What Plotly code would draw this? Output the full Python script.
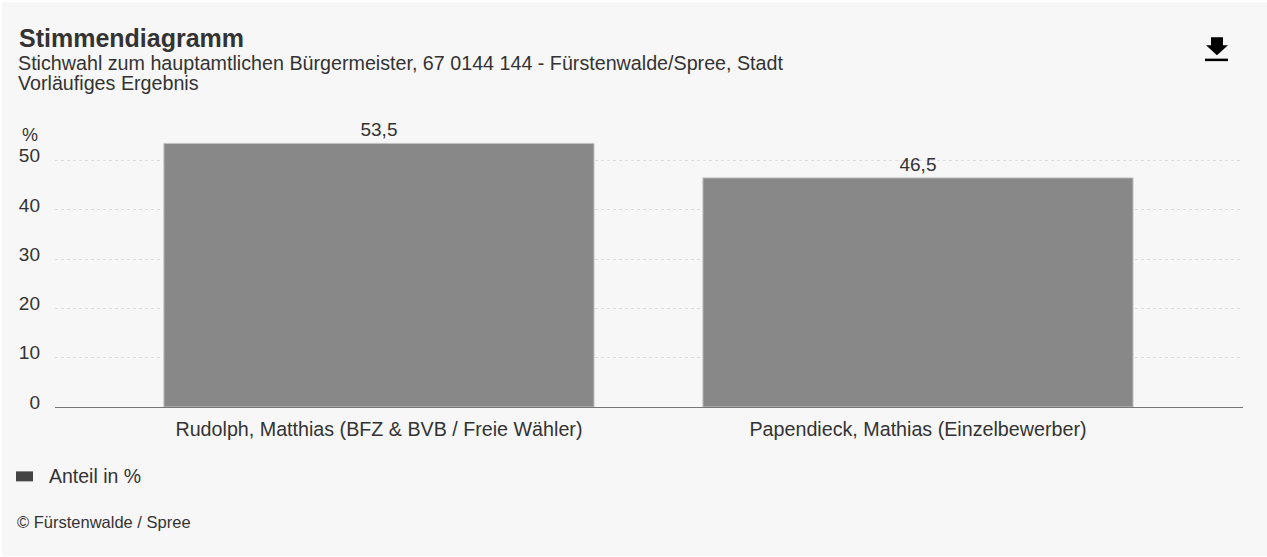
import plotly.graph_objects as go

categories = ["Rudolph, Matthias (BFZ & BVB / Freie Wähler)", "Papendieck, Mathias (Einzelbewerber)"]
values = [53.5, 46.5]
value_labels = ["53,5", "46,5"]
tick_values = [0, 10, 20, 30, 40, 50]

W, H = 1267, 557
ML, MR, MT, MB = 55, 24, 136, 149.5
PW, PH = W - ML - MR, H - MT - MB
FONT = "Liberation Sans"
TEXT = "#333333"

def px(x): return (x - ML) / PW
def py(y): return (H - MB - y) / PH

def text(x, y, s, size, anchor="left", bold=False, color=TEXT):
    return dict(xref="paper", yref="paper", x=px(x), y=py(y), text=f"<b>{s}</b>" if bold else s,
                showarrow=False, xanchor=anchor, yanchor="middle",
                font=dict(family=FONT, size=size, color=color), borderpad=0, borderwidth=0)

def path(d_pts, color):
    d = "M" + " L".join(f"{px(a):.5f},{py(b):.5f}" for a, b in d_pts) + " Z"
    return dict(type="path", xref="paper", yref="paper", path=d, fillcolor=color, line_width=0, layer="above")

fig = go.Figure(go.Bar(
    x=categories, y=values, text=value_labels, textposition="outside", cliponaxis=False,
    marker=dict(color="#888888", line=dict(color="#c4c4c4", width=1)),
    textfont=dict(family=FONT, size=19, color=TEXT), hoverinfo="x+y", showlegend=False,
))

shapes = [
    dict(type="rect", xref="paper", yref="paper", x0=px(2), x1=px(1267), y0=py(557), y1=py(2),
         fillcolor="#f7f7f7", line_width=0, layer="below"),
    dict(type="rect", xref="paper", yref="paper", x0=px(16), x1=px(33), y0=py(482), y1=py(472),
         fillcolor="#444444", line_width=0),
    path([(1211, 37), (1223, 37), (1223, 45), (1228, 45), (1217, 55), (1206, 45), (1211, 45)], "#000000"),
    dict(type="rect", xref="paper", yref="paper", x0=px(1205), x1=px(1228), y0=py(61), y1=py(58.5),
         fillcolor="#000000", line_width=0),
]

annotations = [
    text(19, 37.5, "Stimmendiagramm", 25, bold=True),
    text(18, 62.5, "Stichwahl zum hauptamtlichen Bürgermeister, 67 0144 144 - Fürstenwalde/Spree, Stadt", 19.7),
    text(18, 83, "Vorläufiges Ergebnis", 19.7),
    text(22, 135, "%", 18),
    text(49, 477, "Anteil in %", 19.5),
    text(17, 523, "© Fürstenwalde / Spree", 16.5),
]

fig.update_layout(
    width=W, height=H, autosize=False,
    margin=dict(l=ML, r=MR, t=MT, b=MB, pad=0),
    paper_bgcolor="#ffffff", plot_bgcolor="rgba(0,0,0,0)",
    font=dict(family=FONT, size=19, color=TEXT),
    bargap=0.202, showlegend=False,
    shapes=shapes, annotations=annotations,
    xaxis=dict(type="category", range=[-0.601, 1.603], showgrid=False, showline=True, linecolor="#777777",
               linewidth=1, ticks="", tickfont=dict(family=FONT, size=19.7, color=TEXT),
               ticklabelstandoff=4, zeroline=False),
    yaxis=dict(range=[0, 55], tickvals=tick_values, ticks="", showline=False, zeroline=False,
               showgrid=True, gridcolor="#dddddd", griddash="3px,3px", gridwidth=1,
               tickfont=dict(family=FONT, size=19, color=TEXT), ticklabelstandoff=14, ticklabelshift=-5),
)

fig.write_html("out.html", config=dict(displayModeBar=False),
               post_script="document.body.style.margin='0';")
